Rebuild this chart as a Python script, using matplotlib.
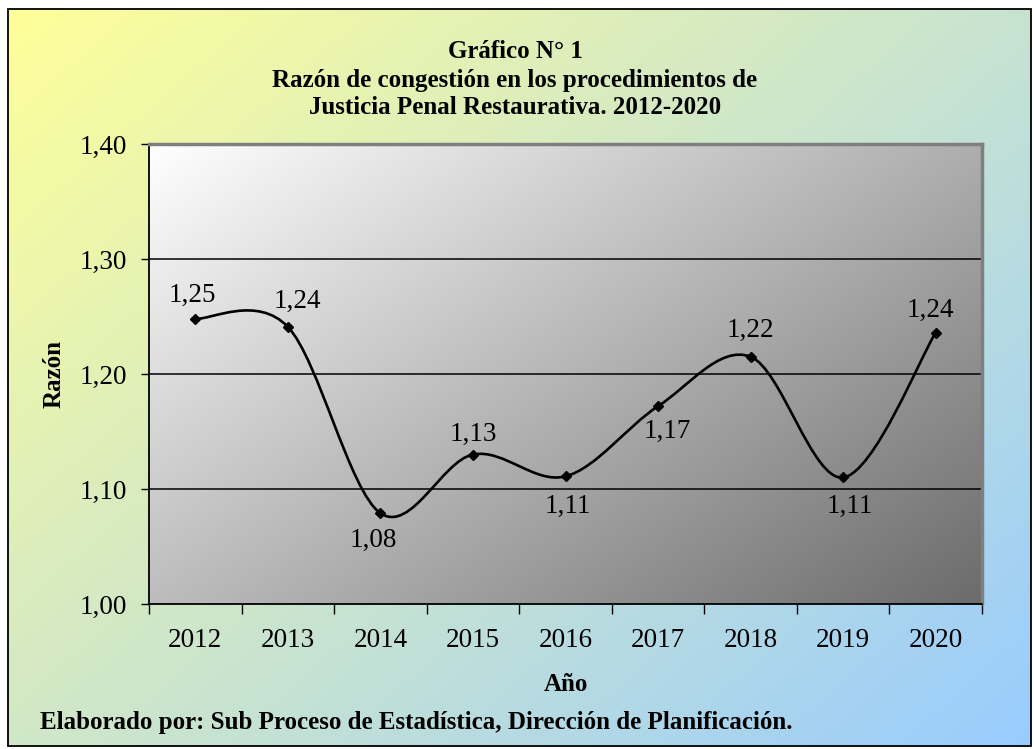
import numpy as np
import matplotlib
matplotlib.use("Agg")
import matplotlib.pyplot as plt
from matplotlib.patches import Rectangle
from matplotlib.path import Path
from matplotlib.patches import PathPatch

plt.rcParams['font.family'] = ['Liberation Serif', 'DejaVu Serif']

years = ["2012", "2013", "2014", "2015", "2016", "2017", "2018", "2019", "2020"]
values = [1.248, 1.241, 1.079, 1.130, 1.111, 1.172, 1.215, 1.110, 1.236]
labels = ["1,25", "1,24", "1,08", "1,13", "1,11", "1,17", "1,22", "1,11", "1,24"]
label_offsets = [(-3, 23), (10, 25), (-7, -27), (0, 20), (2, -30), (9, -25), (0, 26), (7, -29), (-5, 22)]
yticks = [1.00, 1.10, 1.20, 1.30, 1.40]
ytick_labels = ["1,00", "1,10", "1,20", "1,30", "1,40"]

W, H = 1034, 749
fig = plt.figure(figsize=(W / 100, H / 100), dpi=100)
fig.patch.set_facecolor("white")

# Background gradient inside border
bg = fig.add_axes([0, 0, 1, 1])
bg.set_xlim(0, W)
bg.set_ylim(H, 0)
bg.axis("off")
nx, ny = 300, 220
gx, gy = np.meshgrid(np.linspace(0, 1, nx), np.linspace(0, 1, ny))
t = np.clip((gx * 0.55 + gy * 0.45), 0, 1)
c0 = np.array([1.0, 1.0, 0.60])
c1 = np.array([0.60, 0.80, 1.0])
img = c0[None, None, :] * (1 - t[..., None]) + c1[None, None, :] * t[..., None]
x0, y0, x1, y1 = 8, 9, 1031, 746
bg.imshow(img, extent=[x0, x1, y1, y0], aspect="auto", interpolation="bilinear", zorder=0)
bg.add_patch(Rectangle((x0, y0), x1 - x0, y1 - y0, fill=False, edgecolor="black", lw=1.3, zorder=2))

# Main axes
L, R, T, B = 149, 982, 144, 604
ax = fig.add_axes([L / W, 1 - B / H, (R - L) / W, (B - T) / H])
ax.set_xlim(-0.5, len(years) - 0.5)
ax.set_ylim(1.0, 1.4)

gx2, gy2 = np.meshgrid(np.linspace(0, 1, 300), np.linspace(0, 1, 200))
t2 = np.clip(gx2 * 0.55 + gy2 * 0.45, 0, 1)
g = 1.0 - t2 * (1.0 - 0.42)
ax.imshow(np.dstack([g, g, g]), extent=[-0.5, len(years) - 0.5, 1.0, 1.4], origin="upper",
          aspect="auto", interpolation="bilinear", zorder=0)

for yv in yticks[1:-1]:
    ax.axhline(yv, color="black", lw=1.1, zorder=1)

# Smooth curve (Catmull-Rom in screen-scaled space)
xs = np.arange(len(values), dtype=float)
ys = np.array(values)
sx = (R - L) / len(years)
sy = (B - T) / 0.4
P = np.column_stack([xs * sx, ys * sy])
verts = [P[0]]
codes = [Path.MOVETO]
n = len(P)
for i in range(n - 1):
    p0 = P[i - 1] if i > 0 else P[i]
    p1 = P[i]
    p2 = P[i + 1]
    p3 = P[i + 2] if i + 2 < n else P[i + 1]
    c1p = p1 + (p2 - p0) / 6.0
    c2p = p2 - (p3 - p1) / 6.0
    verts += [c1p, c2p, p2]
    codes += [Path.CURVE4] * 3
verts = np.array(verts)
verts[:, 0] /= sx
verts[:, 1] /= sy
ax.add_patch(PathPatch(Path(verts, codes), fill=False, edgecolor="black", lw=1.9, zorder=3))
ax.plot(xs, ys, linestyle="none", marker="D", markersize=5.5, color="black", zorder=4)

for x, yv, lab, (dx, dy) in zip(xs, ys, labels, label_offsets):
    ax.annotate(lab, (x, yv), xytext=(dx, dy), textcoords="offset pixels",
                ha="center", va="center", fontsize=19.5, zorder=5)

ax.set_yticks(yticks)
ax.set_yticklabels(ytick_labels, fontsize=19.5)
ax.set_xticks(xs)
ax.set_xticklabels(years, fontsize=19.5)
ax.set_xticks(np.arange(-0.5, len(years)), minor=True)
ax.tick_params(axis="x", which="major", length=0, pad=17)
ax.tick_params(axis="x", which="minor", length=7, width=1, direction="out")
ax.tick_params(axis="y", which="major", length=6, width=1, direction="out", pad=10)

for side in ["left", "bottom"]:
    ax.spines[side].set_color("black")
    ax.spines[side].set_linewidth(1.3)
for side in ["top", "right"]:
    ax.spines[side].set_color("#7f7f7f")
    ax.spines[side].set_linewidth(2.5)

ax.set_ylabel("Razón", fontsize=18, fontweight="bold", labelpad=10)
ax.set_xlabel("Año", fontsize=18, fontweight="bold", labelpad=15)

fig.text(515 / W, 1 - 52 / H, "Gráfico N° 1", ha="center", va="center", fontsize=18, fontweight="bold")
fig.text(515 / W, 1 - 80 / H, "Razón de congestión en los procedimientos de", ha="center", va="center",
         fontsize=18, fontweight="bold")
fig.text(515 / W, 1 - 108 / H, "Justicia Penal Restaurativa. 2012-2020", ha="center", va="center",
         fontsize=18, fontweight="bold")
fig.text(40 / W, 1 - 722 / H, "Elaborado por: Sub Proceso de Estadística, Dirección de Planificación.",
         ha="left", va="center", fontsize=18, fontweight="bold")

fig.savefig("out.png", dpi=100)
